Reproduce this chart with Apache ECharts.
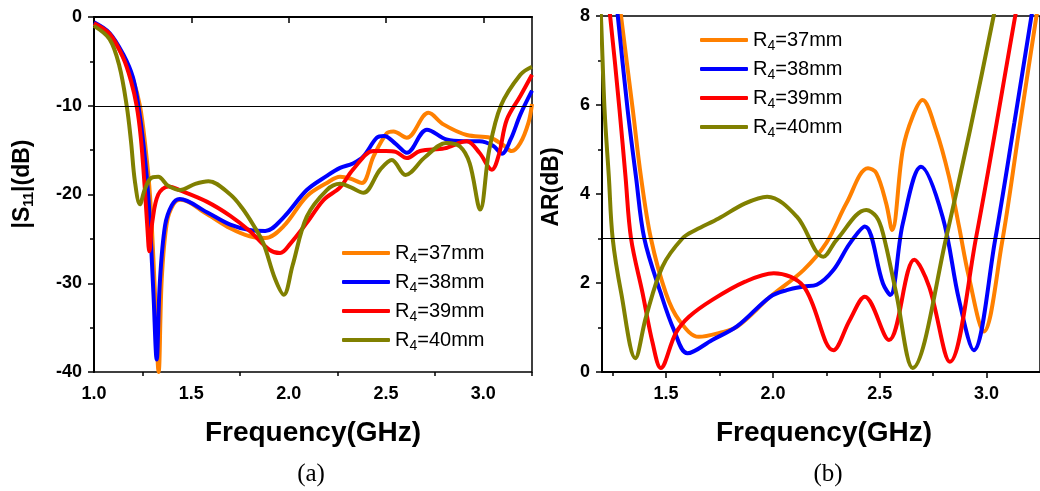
<!DOCTYPE html>
<html>
<head>
<meta charset="utf-8">
<script src="https://cdn.jsdelivr.net/npm/echarts@6/dist/echarts.min.js"></script>
<style>
  html, body { margin: 0; padding: 0; background: #fff; }
  #chart { width: 1040px; height: 491px; }
</style>
</head>
<body>
<div id="chart"></div>
<script>
// series names / colours
const names = ['R4=37mm', 'R4=38mm', 'R4=39mm', 'R4=40mm'];
const colors = ['#FF8000', '#0000FF', '#FF0000', '#808000'];

// (a) |S11| in dB vs frequency (GHz)
const s11_37 = [[1.0,-0.8],[1.08,-2.0],[1.15,-4.5],[1.2,-7.0],[1.236,-10],[1.262,-14.2],[1.288,-20.2],[1.313,-31],[1.332,-40],[1.348,-29.5],[1.374,-23.2],[1.408,-21.1],[1.445,-20.6],[1.58,-22.2],[1.70,-23.8],[1.80,-24.7],[1.88,-24.9],[1.973,-23.6],[2.093,-20.2],[2.196,-18.7],[2.264,-18.0],[2.316,-18.2],[2.376,-18.7],[2.436,-15.7],[2.504,-13.1],[2.538,-12.9],[2.607,-13.6],[2.718,-10.8],[2.795,-12.1],[2.915,-13.3],[3.035,-13.6],[3.10,-14.4],[3.146,-15.1],[3.19,-14.2],[3.232,-11.9],[3.25,-9.8]];
const s11_38 = [[1.0,-0.6],[1.08,-1.8],[1.15,-4.2],[1.2,-6.8],[1.228,-10],[1.255,-14.5],[1.28,-20.5],[1.305,-31],[1.322,-38.6],[1.338,-30],[1.365,-23.5],[1.40,-21.2],[1.44,-20.5],[1.58,-22.0],[1.70,-23.4],[1.80,-24.0],[1.88,-24.1],[1.973,-22.6],[2.093,-19.5],[2.196,-17.9],[2.264,-17.0],[2.33,-16.5],[2.384,-15.7],[2.453,-13.6],[2.49,-13.4],[2.55,-14.3],[2.607,-15.3],[2.71,-12.7],[2.81,-13.8],[2.90,-14.0],[2.98,-14.0],[3.05,-14.5],[3.095,-15.4],[3.14,-13.8],[3.19,-11.0],[3.25,-8.3]];
const s11_39 = [[1.0,-0.7],[1.08,-1.9],[1.15,-4.6],[1.19,-7.2],[1.219,-10],[1.24,-13.5],[1.26,-19],[1.275,-24],[1.284,-26.4],[1.30,-23],[1.33,-20],[1.382,-19.1],[1.45,-19.6],[1.579,-20.8],[1.70,-22.4],[1.80,-24.1],[1.90,-26.2],[1.956,-26.6],[2.01,-25.5],[2.093,-23.2],[2.18,-20.6],[2.264,-19.2],[2.33,-17.2],[2.436,-15.1],[2.50,-15.1],[2.55,-15.2],[2.607,-15.9],[2.675,-15.1],[2.80,-14.8],[2.915,-14.0],[2.98,-15.3],[3.044,-17.2],[3.08,-15.5],[3.12,-11.6],[3.19,-8.9],[3.25,-6.5]];
const s11_40 = [[1.0,-1.0],[1.08,-2.5],[1.13,-5.5],[1.168,-10],[1.19,-14],[1.21,-18.5],[1.236,-21.1],[1.26,-19.5],[1.29,-18.2],[1.33,-18.0],[1.38,-19.0],[1.442,-19.5],[1.52,-18.8],[1.588,-18.5],[1.70,-20.0],[1.76,-21.5],[1.82,-23.5],[1.87,-25.5],[1.93,-29.5],[1.975,-31.3],[2.02,-28],[2.093,-22.5],[2.196,-19.5],[2.264,-18.8],[2.32,-19.2],[2.384,-19.8],[2.47,-17.2],[2.53,-16.1],[2.60,-17.8],[2.70,-15.8],[2.81,-14.2],[2.88,-14.6],[2.93,-16.5],[2.984,-21.7],[3.03,-15],[3.09,-10],[3.19,-6.5],[3.25,-5.6]];

// (b) AR in dB vs frequency (GHz)
const ar_37 = [[1.24,10],[1.289,8],[1.344,5.9],[1.382,4.4],[1.429,3.0],[1.499,1.77],[1.56,1.17],[1.653,0.79],[1.75,0.88],[1.833,1.02],[1.987,1.69],[2.143,2.29],[2.25,2.9],[2.344,3.79],[2.445,4.58],[2.484,4.47],[2.53,3.79],[2.558,3.19],[2.608,5.0],[2.654,5.74],[2.70,6.11],[2.763,5.44],[2.824,4.39],[2.871,3.27],[2.917,2.14],[2.987,0.91],[3.072,2.9],[3.15,5.37],[3.227,7.8],[3.26,8.8]];
const ar_38 = [[1.22,10.5],[1.274,8],[1.32,5.89],[1.359,4.39],[1.398,3.0],[1.475,1.77],[1.537,0.94],[1.60,0.42],[1.716,0.72],[1.833,1.03],[1.987,1.69],[2.065,1.84],[2.143,1.92],[2.205,1.96],[2.283,2.29],[2.36,2.89],[2.43,3.27],[2.515,1.99],[2.549,1.73],[2.608,3.34],[2.693,4.61],[2.794,3.49],[2.871,1.62],[2.94,0.49],[3.04,2.97],[3.13,5.6],[3.21,8],[3.25,9.2]];
const ar_39 = [[1.2,9.5],[1.238,8],[1.282,5.89],[1.31,4.39],[1.336,3.0],[1.39,1.77],[1.437,0.65],[1.475,0.09],[1.545,0.87],[1.607,1.24],[1.716,1.62],[1.87,2.03],[2.004,2.22],[2.144,1.92],[2.283,0.49],[2.36,1.17],[2.43,1.69],[2.543,0.72],[2.662,2.52],[2.731,1.92],[2.828,0.23],[2.95,3.0],[3.134,8],[3.2,9.8]];
const ar_40 = [[1.18,9.5],[1.195,8],[1.212,5.89],[1.232,4.39],[1.25,3.0],[1.29,1.77],[1.356,0.31],[1.406,1.24],[1.483,2.37],[1.576,3.0],[1.638,3.19],[1.746,3.45],[1.87,3.79],[1.973,3.94],[2.112,3.49],[2.236,2.59],[2.298,2.97],[2.437,3.64],[2.484,3.49],[2.515,3.12],[2.577,1.77],[2.654,0.09],[2.81,3.0],[3.033,8],[3.06,9]];

// tick values
const freqTicksA = [1.0, 1.5, 2.0, 2.5, 3.0];
const freqMinorA = [1.25, 1.75, 2.25, 2.75, 3.25];
const freqTicksB = [1.5, 2.0, 2.5, 3.0];
const freqMinorB = [1.25, 1.75, 2.25, 2.75];

const s11Sets = [s11_37, s11_38, s11_39, s11_40];
const arSets = [ar_37, ar_38, ar_39, ar_40];

const FONT = 'Liberation Sans, Arial, sans-serif';
const SERIF = 'Liberation Serif, Times New Roman, serif';

const chart = echarts.init(document.getElementById('chart'), null, { renderer: 'canvas' });

// "R4=37mm" -> R with subscript 4
function legendText(name) {
  return '{r|R}{s|4}{r|' + name.slice(2) + '}';
}
const legendRich = {
  r: { fontSize: 20, fontFamily: FONT, color: '#000' },
  s: { fontSize: 14, fontFamily: FONT, color: '#000', padding: [12, 0, 0, 0] }
};

function mainX(grid, min, max, ticks) {
  return {
    type: 'value', gridIndex: grid, min: min, max: max, position: 'bottom',
    axisLine: { lineStyle: { color: '#000', width: 2 } },
    axisTick: { customValues: ticks, length: 6, lineStyle: { color: '#000', width: 1.5 } },
    axisLabel: { customValues: ticks, color: '#000', fontSize: 18, fontWeight: 'bold', fontFamily: FONT, margin: 13,
      formatter: v => v.toFixed(1) },
    splitLine: { show: false }
  };
}
function minorX(grid, min, max, ticks) {
  return {
    type: 'value', gridIndex: grid, min: min, max: max, position: 'bottom',
    axisLine: { show: false },
    axisTick: { customValues: ticks, length: 4, lineStyle: { color: '#000', width: 1.5 } },
    axisLabel: { show: false },
    splitLine: { show: false }
  };
}
function yAx(grid, min, max, step) {
  return {
    type: 'value', gridIndex: grid, min: min, max: max, interval: step,
    axisLine: { show: true, lineStyle: { color: '#000', width: 2 } },
    axisTick: { show: true, length: 6, lineStyle: { color: '#000', width: 1.5 } },
    minorTick: { show: true, splitNumber: 2, length: 4, lineStyle: { color: '#000', width: 1.5 } },
    axisLabel: { color: '#000', fontSize: 18, fontWeight: 'bold', fontFamily: FONT, margin: 12 },
    splitLine: { show: false }
  };
}

const series = [];
s11Sets.forEach((d, i) => {
  series.push({
    name: names[i], type: 'line', xAxisIndex: 0, yAxisIndex: 0, data: d,
    smooth: 0.35, showSymbol: false, symbol: 'none',
    lineStyle: { color: colors[i], width: 4 }, itemStyle: { color: colors[i] },
    markLine: i === 0 ? { silent: true, symbol: 'none', label: { show: false },
      lineStyle: { color: '#000', width: 1, type: 'solid' }, data: [{ yAxis: -10 }] } : undefined
  });
});
arSets.forEach((d, i) => {
  series.push({
    name: names[i], type: 'line', xAxisIndex: 2, yAxisIndex: 1, data: d,
    smooth: 0.35, showSymbol: false, symbol: 'none',
    lineStyle: { color: colors[i], width: 4 }, itemStyle: { color: colors[i] },
    markLine: i === 0 ? { silent: true, symbol: 'none', label: { show: false },
      lineStyle: { color: '#000', width: 1, type: 'solid' }, data: [{ yAxis: 3 }] } : undefined
  });
});

const legendBase = {
  orient: 'vertical', padding: 0, itemWidth: 48, itemHeight: 4, itemGap: 6,
  icon: 'roundRect', data: names, formatter: legendText, textStyle: { rich: legendRich }
};

chart.setOption({
  animation: false,
  backgroundColor: '#fff',
  grid: [
    { left: 94, top: 17, width: 438, height: 355, show: true, borderColor: '#000', borderWidth: 1.5 },
    { left: 602, top: 16, width: 441, height: 356, show: true, borderColor: '#000', borderWidth: 1.5 }
  ],
  xAxis: [
    mainX(0, 1.0, 3.25, freqTicksA),
    minorX(0, 1.0, 3.25, freqMinorA),
    mainX(1, 1.2, 3.25, freqTicksB),
    minorX(1, 1.2, 3.25, freqMinorB)
  ],
  yAxis: [
    yAx(0, -40, 0, 10),
    yAx(1, 0, 8, 2)
  ],
  legend: [
    Object.assign({}, legendBase, { left: 342, top: 243 }),
    Object.assign({}, legendBase, { left: 700, top: 30 })
  ],
  graphic: [
    { type: 'text', x: 23, y: 184, rotation: Math.PI / 2,
      style: { text: '{a||S}{b|11}{a||(dB)}', textAlign: 'center', textVerticalAlign: 'middle',
        rich: { a: { fontSize: 23, fontWeight: 'bold', fontFamily: FONT, fill: '#000' },
                b: { fontSize: 14, fontWeight: 'bold', fontFamily: FONT, fill: '#000', padding: [12, 0, 0, 0] } } } },
    { type: 'text', x: 552, y: 187, rotation: Math.PI / 2,
      style: { text: 'AR(dB)', textAlign: 'center', textVerticalAlign: 'middle',
        font: 'bold 23px ' + FONT, fill: '#000' } },
    { type: 'text', x: 313, y: 433,
      style: { text: 'Frequency(GHz)', textAlign: 'center', textVerticalAlign: 'middle',
        font: 'bold 28px ' + FONT, fill: '#000' } },
    { type: 'text', x: 824, y: 433,
      style: { text: 'Frequency(GHz)', textAlign: 'center', textVerticalAlign: 'middle',
        font: 'bold 28px ' + FONT, fill: '#000' } },
    { type: 'text', x: 311, y: 474,
      style: { text: '(a)', textAlign: 'center', textVerticalAlign: 'middle',
        font: '25px ' + SERIF, fill: '#000' } },
    { type: 'text', x: 828, y: 474,
      style: { text: '(b)', textAlign: 'center', textVerticalAlign: 'middle',
        font: '25px ' + SERIF, fill: '#000' } }
  ],
  series: series
});
</script>
</body>
</html>
